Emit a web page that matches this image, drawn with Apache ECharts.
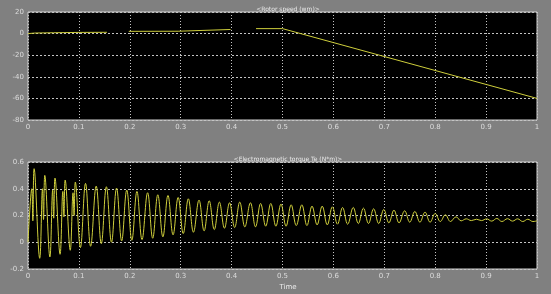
<!DOCTYPE html>
<html>
<head>
<meta charset="utf-8">
<script src="https://cdn.jsdelivr.net/npm/echarts@6/dist/echarts.min.js"></script>
<style>
  html, body { margin: 0; padding: 0; background: #808080; }
  #chart { width: 551px; height: 294px; }
</style>
</head>
<body>
<div id="chart"></div>
<script>
// scope de Simulink: velocidad del rotor + par electromagnético
const speedTitle = '<Rotor speed (wm)>';
const torqueTitle = '<Electromagnetic torque Te (N*m)>';
const xLabel = 'Time';

// velocidad (tramos con huecos, como en el scope)
const speed = [
  [0, 0], [0.013, 0.5], [0.05, 0.8], [0.1, 1.1], [0.155, 1.2], null,
  [0.198, 2.1], [0.295, 2.2], [0.297, 3.7], [0.398, 3.8], null,
  [0.448, 4.6], [0.5, 4.6], [1.0, -60]
];

// par: extremos [t, Te]
const torque = [
  [0, 0.0], [0.0075, 0.40], [0.0095, 0.16], [0.012, 0.55], [0.023, -0.12],
  [0.0285, 0.40], [0.0305, 0.17], [0.033, 0.50], [0.043, -0.11],
  [0.0485, 0.39], [0.0505, 0.18], [0.053, 0.48], [0.063, -0.09],
  [0.0685, 0.38], [0.0705, 0.19], [0.073, 0.465], [0.083, -0.06],
  [0.0885, 0.37], [0.0905, 0.20], [0.093, 0.45], [0.103, -0.04],
  [0.113, 0.44], [0.123, -0.03], [0.134, 0.42], [0.144, -0.01],
  [0.154, 0.415], [0.164, 0.0], [0.174, 0.405], [0.184, 0.01],
  [0.194, 0.39], [0.204, 0.015], [0.214, 0.38], [0.224, 0.02],
  [0.235, 0.37], [0.245, 0.03], [0.255, 0.355], [0.265, 0.04],
  [0.275, 0.35], [0.285, 0.055], [0.295, 0.335], [0.305, 0.065],
  [0.315, 0.325], [0.325, 0.075], [0.336, 0.315], [0.346, 0.085],
  [0.356, 0.31], [0.366, 0.095], [0.376, 0.30], [0.386, 0.105],
  [0.396, 0.295], [0.406, 0.11], [0.416, 0.30], [0.426, 0.115],
  [0.437, 0.295], [0.447, 0.115], [0.457, 0.29], [0.467, 0.12],
  [0.477, 0.29], [0.487, 0.12], [0.497, 0.285], [0.507, 0.12],
  [0.517, 0.28], [0.527, 0.125], [0.538, 0.28], [0.548, 0.125],
  [0.558, 0.27], [0.568, 0.13], [0.578, 0.27], [0.588, 0.13],
  [0.598, 0.265], [0.608, 0.135], [0.618, 0.26], [0.628, 0.135],
  [0.639, 0.26], [0.649, 0.14], [0.659, 0.255], [0.669, 0.14],
  [0.679, 0.25], [0.689, 0.14], [0.699, 0.245], [0.709, 0.145],
  [0.719, 0.24], [0.729, 0.145], [0.740, 0.235], [0.750, 0.15],
  [0.760, 0.23], [0.770, 0.15], [0.780, 0.225], [0.790, 0.15],
  [0.800, 0.215], [0.810, 0.155], [0.820, 0.205], [0.830, 0.155],
  [0.841, 0.19], [0.851, 0.16], [0.861, 0.175], [0.871, 0.162],
  [0.881, 0.172], [0.891, 0.162], [0.901, 0.175], [0.911, 0.158],
  [0.921, 0.178], [0.931, 0.155], [0.942, 0.176], [0.952, 0.158],
  [0.962, 0.175], [0.972, 0.155], [0.982, 0.172], [0.992, 0.155],
  [1.0, 0.16]
];

const FONT = 'DejaVu Sans, sans-serif';
const LINE = '#cfcf3c';
const GRIDC = '#c4c4c4';

const xAxisBase = (gi) => ({
  type: 'value', gridIndex: gi, min: 0, max: 1, interval: 0.1,
  axisLine: { show: false }, axisTick: { show: false },
  axisLabel: { color: '#dcdcdc', fontFamily: FONT, fontSize: 7, margin: 4 },
  splitLine: { show: true, lineStyle: { color: GRIDC, type: [1, 2], width: 1 } }
});
const yAxisBase = (gi, min, max, iv) => ({
  type: 'value', gridIndex: gi, min, max, interval: iv,
  axisLine: { show: false }, axisTick: { show: false },
  axisLabel: { color: '#dcdcdc', fontFamily: FONT, fontSize: 7, margin: 4 },
  splitLine: { show: true, lineStyle: { color: GRIDC, type: [2, 2], width: 1 } }
});

const chart = echarts.init(document.getElementById('chart'), null, { renderer: 'canvas' });
chart.setOption({
  backgroundColor: '#808080',
  animation: false,
  title: [
    { text: speedTitle, left: 283, top: 1, textAlign: 'center',
      textStyle: { color: '#eaeaea', fontFamily: FONT, fontSize: 6, fontWeight: 'normal' } },
    { text: torqueTitle, left: 283, top: 151, textAlign: 'center',
      textStyle: { color: '#eaeaea', fontFamily: FONT, fontSize: 6, fontWeight: 'normal' } },
    { text: xLabel, left: 283, top: 279, textAlign: 'center',
      textStyle: { color: '#eaeaea', fontFamily: FONT, fontSize: 7, fontWeight: 'normal' } }
  ],
  grid: [
    { left: 28, top: 12, width: 509, height: 108, show: true, backgroundColor: '#000',
      borderColor: '#d0d0d0', borderWidth: 1 },
    { left: 28, top: 162, width: 509, height: 107, show: true, backgroundColor: '#000',
      borderColor: '#d0d0d0', borderWidth: 1 }
  ],
  xAxis: [xAxisBase(0), xAxisBase(1)],
  yAxis: [yAxisBase(0, -80, 20, 20), yAxisBase(1, -0.2, 0.6, 0.2)],
  series: [
    { type: 'line', xAxisIndex: 0, yAxisIndex: 0, data: speed, showSymbol: false,
      connectNulls: false, lineStyle: { color: LINE, width: 1 } },
    { type: 'line', xAxisIndex: 1, yAxisIndex: 1, data: torque, showSymbol: false,
      smooth: 0.4, lineStyle: { color: LINE, width: 1 } }
  ]
});
</script>
</body>
</html>
